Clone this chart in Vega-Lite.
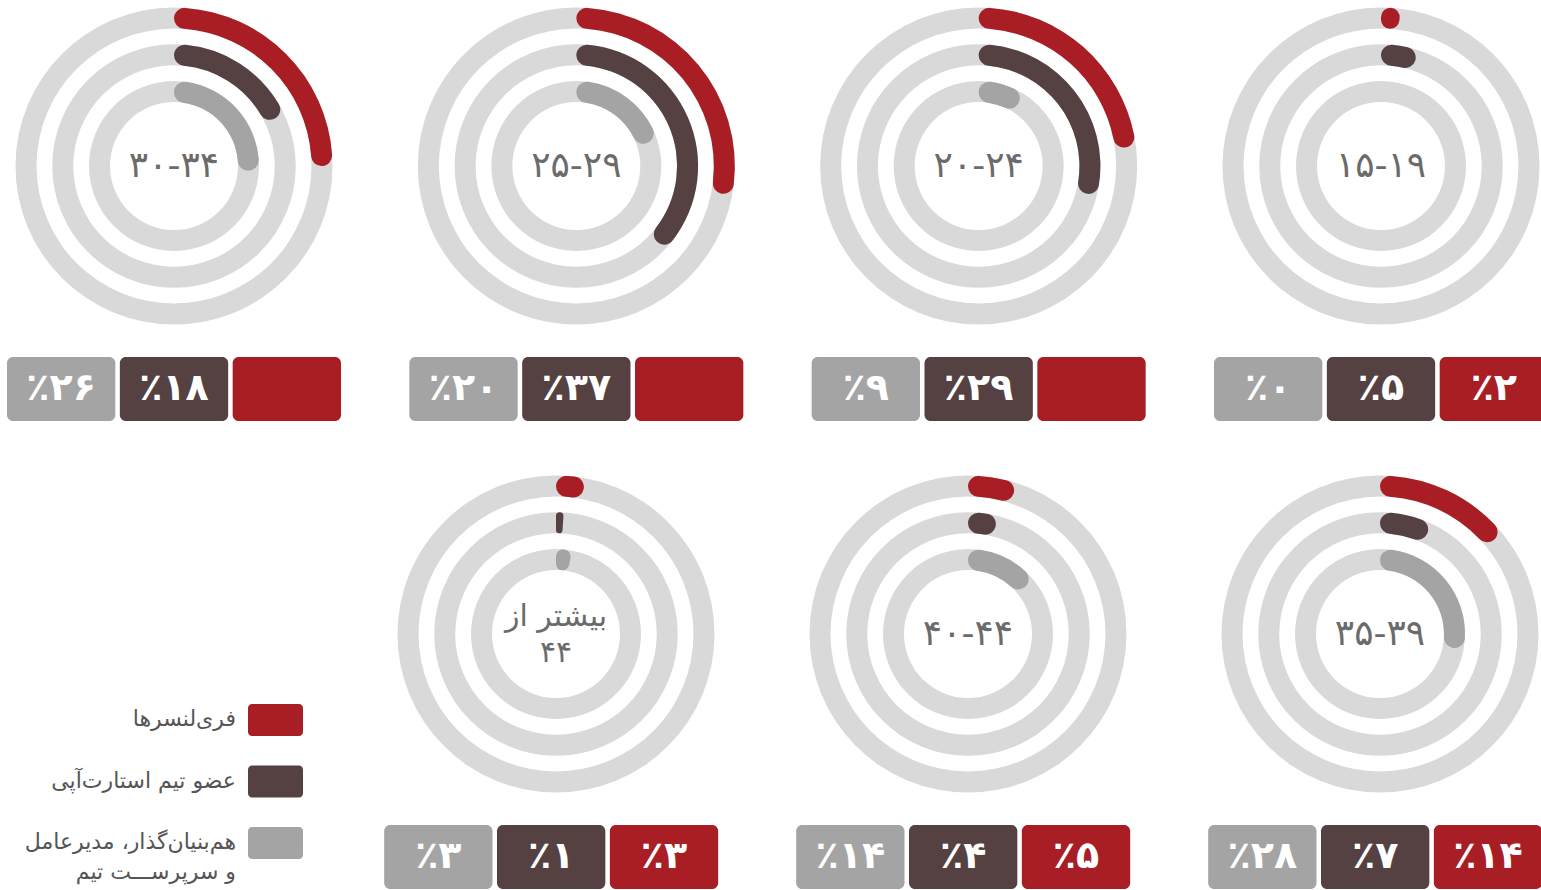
{
  "$schema": "https://vega.github.io/schema/vega-lite/v6.json",
  "padding": 0,
  "background": "#ffffff",
  "spacing": 47,
  "config": {"view": {"stroke": null}, "font": "DejaVu Sans"},
  "datasets": {
    "shares": [
      {"age": "۳۰-۳۴", "group": "freelancer", "value": 25, "label": ""},
      {"age": "۳۰-۳۴", "group": "team", "value": 18, "label": "٪۱۸"},
      {"age": "۳۰-۳۴", "group": "founder", "value": 26, "label": "٪۲۶"},
      {"age": "۲۵-۲۹", "group": "freelancer", "value": 28, "label": ""},
      {"age": "۲۵-۲۹", "group": "team", "value": 37, "label": "٪۳۷"},
      {"age": "۲۵-۲۹", "group": "founder", "value": 20, "label": "٪۲۰"},
      {"age": "۲۰-۲۴", "group": "freelancer", "value": 23, "label": ""},
      {"age": "۲۰-۲۴", "group": "team", "value": 29, "label": "٪۲۹"},
      {"age": "۲۰-۲۴", "group": "founder", "value": 9, "label": "٪۹"},
      {"age": "۱۵-۱۹", "group": "freelancer", "value": 2, "label": "٪۲"},
      {"age": "۱۵-۱۹", "group": "team", "value": 5, "label": "٪۵"},
      {"age": "۱۵-۱۹", "group": "founder", "value": 0, "label": "٪۰"},
      {"age": "۳۵-۳۹", "group": "freelancer", "value": 14, "label": "٪۱۴"},
      {"age": "۳۵-۳۹", "group": "team", "value": 7, "label": "٪۷"},
      {"age": "۳۵-۳۹", "group": "founder", "value": 28, "label": "٪۲۸"},
      {"age": "۴۰-۴۴", "group": "freelancer", "value": 5, "label": "٪۵"},
      {"age": "۴۰-۴۴", "group": "team", "value": 4, "label": "٪۴"},
      {"age": "۴۰-۴۴", "group": "founder", "value": 14, "label": "٪۱۴"},
      {"age": "بیشتر از\n۴۴", "group": "freelancer", "value": 3, "label": "٪۳"},
      {"age": "بیشتر از\n۴۴", "group": "team", "value": 1, "label": "٪۱"},
      {"age": "بیشتر از\n۴۴", "group": "founder", "value": 3, "label": "٪۳"}
    ],
    "legend": [
      {"group": "freelancer", "name": "فری\u200cلنسرها"},
      {"group": "team", "name": "عضو تیم استارت\u200cآپی"},
      {"group": "founder", "name": "هم\u200cبنیان\u200cگذار، مدیرعامل\nو سرپرســـت تیم"}
    ]
  },
  "vconcat": [
    {
      "spacing": 25,
      "bounds": "flush",
      "vconcat": [
        {
          "width": 1541,
          "height": 332,
          "layer": [
            {
              "data": {"name": "shares"},
              "transform": [{"filter": {"field": "age", "oneOf": ["۳۰-۳۴", "۲۵-۲۹", "۲۰-۲۴", "۱۵-۱۹"]}}],
              "mark": {"type": "arc", "color": "#d9d9d9", "radiusOffset": 10.5, "radius2Offset": -10.5},
              "encoding": {
                "x": {"field": "age", "type": "nominal", "axis": null, "scale": {"type": "point", "domain": ["۳۰-۳۴", "۲۵-۲۹", "۲۰-۲۴", "۱۵-۱۹"], "range": [174, 1381], "padding": 0}},
                "theta": {"datum": 100, "type": "quantitative", "scale": {"domain": [0, 100], "range": [0, 6.283185307179586]}},
                "theta2": {"datum": 0},
                "radius": {"field": "group", "type": "nominal", "scale": {"type": "point", "domain": ["founder", "team", "freelancer"], "range": [74.5, 148], "padding": 0}},
                "radius2": {"field": "group"}
              }
            },
            {
              "data": {"name": "shares"},
              "transform": [{"filter": {"field": "age", "oneOf": ["۳۰-۳۴", "۲۵-۲۹", "۲۰-۲۴", "۱۵-۱۹"]}}],
              "mark": {"type": "arc", "cornerRadius": 10.5, "radiusOffset": 10.5, "radius2Offset": -10.5},
              "encoding": {
                "x": {"field": "age", "type": "nominal", "axis": null, "scale": {"type": "point", "domain": ["۳۰-۳۴", "۲۵-۲۹", "۲۰-۲۴", "۱۵-۱۹"], "range": [174, 1381], "padding": 0}},
                "theta": {"field": "value", "type": "quantitative", "stack": null, "scale": {"domain": [0, 100], "range": [0, 6.283185307179586]}},
                "theta2": {"datum": 0},
                "radius": {"field": "group", "type": "nominal", "scale": {"type": "point", "domain": ["founder", "team", "freelancer"], "range": [74.5, 148], "padding": 0}},
                "radius2": {"field": "group"},
                "color": {"field": "group", "type": "nominal", "legend": null, "scale": {"domain": ["freelancer", "team", "founder"], "range": ["#a81e24", "#564142", "#a4a4a4"]}}
              }
            },
            {
              "data": {"name": "shares"},
              "transform": [
                {"filter": {"field": "age", "oneOf": ["۳۰-۳۴", "۲۵-۲۹", "۲۰-۲۴", "۱۵-۱۹"]}},
                {"filter": {"field": "group", "equal": "freelancer"}}
              ],
              "mark": {"type": "text", "font": "DejaVu Sans", "fontSize": 36, "color": "#6b6b6b", "baseline": "middle", "align": "center"},
              "encoding": {
                "x": {"field": "age", "type": "nominal", "axis": null, "scale": {"type": "point", "domain": ["۳۰-۳۴", "۲۵-۲۹", "۲۰-۲۴", "۱۵-۱۹"], "range": [174, 1381], "padding": 0}},
                "text": {"field": "age"}
              }
            }
          ]
        },
        {
          "width": 1541,
          "height": 64,
          "data": {"name": "shares"},
          "transform": [{"filter": {"field": "age", "oneOf": ["۳۰-۳۴", "۲۵-۲۹", "۲۰-۲۴", "۱۵-۱۹"]}}],
          "encoding": {
            "x": {"field": "age", "type": "nominal", "axis": null, "scale": {"type": "band", "domain": ["۳۰-۳۴", "۲۵-۲۹", "۲۰-۲۴", "۱۵-۱۹"], "range": [-27.167, 1582.167], "paddingInner": 0, "paddingOuter": 0}},
            "xOffset": {"field": "group", "type": "nominal", "scale": {"type": "band", "domain": ["founder", "team", "freelancer"], "range": [34.167, 368.167], "paddingInner": 0.04, "paddingOuter": 0}}
          },
          "layer": [
            {
              "mark": {"type": "rect", "cornerRadius": 6},
              "encoding": {
                "color": {"field": "group", "type": "nominal", "legend": null, "scale": {"domain": ["freelancer", "team", "founder"], "range": ["#a81e24", "#564142", "#a4a4a4"]}}
              }
            },
            {
              "mark": {"type": "text", "font": "DejaVu Sans", "fontSize": 38, "fontWeight": "bold", "color": "#ffffff", "baseline": "middle", "align": "center"},
              "encoding": {"text": {"field": "label"}}
            }
          ]
        }
      ]
    },
    {
      "spacing": 25,
      "bounds": "flush",
      "vconcat": [
        {
          "width": 1541,
          "height": 332,
          "resolve": {"scale": {"x": "independent", "y": "independent"}},
          "layer": [
            {
              "data": {"name": "shares"},
              "transform": [{"filter": {"field": "age", "oneOf": ["بیشتر از\n۴۴", "۴۰-۴۴", "۳۵-۳۹"]}}],
              "mark": {"type": "arc", "color": "#d9d9d9", "radiusOffset": 10.5, "radius2Offset": -10.5},
              "encoding": {
                "x": {"field": "age", "type": "nominal", "axis": null, "scale": {"type": "point", "domain": ["بیشتر از\n۴۴", "۴۰-۴۴", "۳۵-۳۹"], "range": [556, 1380], "padding": 0}},
                "theta": {"datum": 100, "type": "quantitative", "scale": {"domain": [0, 100], "range": [0, 6.283185307179586]}},
                "theta2": {"datum": 0},
                "radius": {"field": "group", "type": "nominal", "scale": {"type": "point", "domain": ["founder", "team", "freelancer"], "range": [74.5, 148], "padding": 0}},
                "radius2": {"field": "group"}
              }
            },
            {
              "data": {"name": "shares"},
              "transform": [{"filter": {"field": "age", "oneOf": ["بیشتر از\n۴۴", "۴۰-۴۴", "۳۵-۳۹"]}}],
              "mark": {"type": "arc", "cornerRadius": 10.5, "radiusOffset": 10.5, "radius2Offset": -10.5},
              "encoding": {
                "x": {"field": "age", "type": "nominal", "axis": null, "scale": {"type": "point", "domain": ["بیشتر از\n۴۴", "۴۰-۴۴", "۳۵-۳۹"], "range": [556, 1380], "padding": 0}},
                "theta": {"field": "value", "type": "quantitative", "stack": null, "scale": {"domain": [0, 100], "range": [0, 6.283185307179586]}},
                "theta2": {"datum": 0},
                "radius": {"field": "group", "type": "nominal", "scale": {"type": "point", "domain": ["founder", "team", "freelancer"], "range": [74.5, 148], "padding": 0}},
                "radius2": {"field": "group"},
                "color": {"field": "group", "type": "nominal", "legend": null, "scale": {"domain": ["freelancer", "team", "founder"], "range": ["#a81e24", "#564142", "#a4a4a4"]}}
              }
            },
            {
              "data": {"name": "shares"},
              "transform": [
                {"filter": {"field": "age", "oneOf": ["۴۰-۴۴", "۳۵-۳۹"]}},
                {"filter": {"field": "group", "equal": "freelancer"}}
              ],
              "mark": {"type": "text", "font": "DejaVu Sans", "fontSize": 36, "color": "#6b6b6b", "baseline": "middle", "align": "center"},
              "encoding": {
                "x": {"field": "age", "type": "nominal", "axis": null, "scale": {"type": "point", "domain": ["بیشتر از\n۴۴", "۴۰-۴۴", "۳۵-۳۹"], "range": [556, 1380], "padding": 0}},
                "text": {"field": "age"}
              }
            },
            {
              "data": {"name": "shares"},
              "transform": [
                {"filter": {"field": "age", "equal": "بیشتر از\n۴۴"}},
                {"filter": {"field": "group", "equal": "freelancer"}}
              ],
              "mark": {"type": "text", "font": "DejaVu Sans", "fontSize": 30, "color": "#6b6b6b", "baseline": "middle", "align": "center", "lineBreak": "\n", "lineHeight": 36, "dy": -17},
              "encoding": {
                "x": {"field": "age", "type": "nominal", "axis": null, "scale": {"type": "point", "domain": ["بیشتر از\n۴۴", "۴۰-۴۴", "۳۵-۳۹"], "range": [556, 1380], "padding": 0}},
                "text": {"field": "age"}
              }
            },
            {
              "data": {"name": "legend"},
              "mark": {"type": "rect", "width": 55, "height": 32, "cornerRadius": 4},
              "encoding": {
                "x": {"datum": "swatch", "type": "nominal", "axis": null, "scale": {"type": "point", "domain": ["label", "swatch"], "range": [236, 275.5], "padding": 0}},
                "y": {"field": "group", "type": "nominal", "axis": null, "scale": {"type": "point", "domain": ["freelancer", "team", "founder"], "range": [252, 375], "padding": 0}},
                "color": {"field": "group", "type": "nominal", "legend": null, "scale": {"domain": ["freelancer", "team", "founder"], "range": ["#a81e24", "#564142", "#a4a4a4"]}}
              }
            },
            {
              "data": {"name": "legend"},
              "mark": {"type": "text", "font": "DejaVu Sans", "fontSize": 22, "color": "#555555", "align": "right", "baseline": "top", "dy": -11, "lineBreak": "\n", "lineHeight": 30},
              "encoding": {
                "x": {"datum": "label", "type": "nominal", "axis": null, "scale": {"type": "point", "domain": ["label", "swatch"], "range": [236, 275.5], "padding": 0}},
                "y": {"field": "group", "type": "nominal", "axis": null, "scale": {"type": "point", "domain": ["freelancer", "team", "founder"], "range": [252, 375], "padding": 0}},
                "text": {"field": "name"}
              }
            }
          ]
        },
        {
          "width": 1541,
          "height": 64,
          "data": {"name": "shares"},
          "transform": [{"filter": {"field": "age", "oneOf": ["بیشتر از\n۴۴", "۴۰-۴۴", "۳۵-۳۹"]}}],
          "encoding": {
            "x": {"field": "age", "type": "nominal", "axis": null, "scale": {"type": "band", "domain": ["بیشتر از\n۴۴", "۴۰-۴۴", "۳۵-۳۹"], "range": [350, 1586], "paddingInner": 0, "paddingOuter": 0}},
            "xOffset": {"field": "group", "type": "nominal", "scale": {"type": "band", "domain": ["founder", "team", "freelancer"], "range": [39, 373], "paddingInner": 0.04, "paddingOuter": 0}}
          },
          "layer": [
            {
              "mark": {"type": "rect", "cornerRadius": 6},
              "encoding": {
                "color": {"field": "group", "type": "nominal", "legend": null, "scale": {"domain": ["freelancer", "team", "founder"], "range": ["#a81e24", "#564142", "#a4a4a4"]}}
              }
            },
            {
              "mark": {"type": "text", "font": "DejaVu Sans", "fontSize": 38, "fontWeight": "bold", "color": "#ffffff", "baseline": "middle", "align": "center"},
              "encoding": {"text": {"field": "label"}}
            }
          ]
        }
      ]
    }
  ]
}
